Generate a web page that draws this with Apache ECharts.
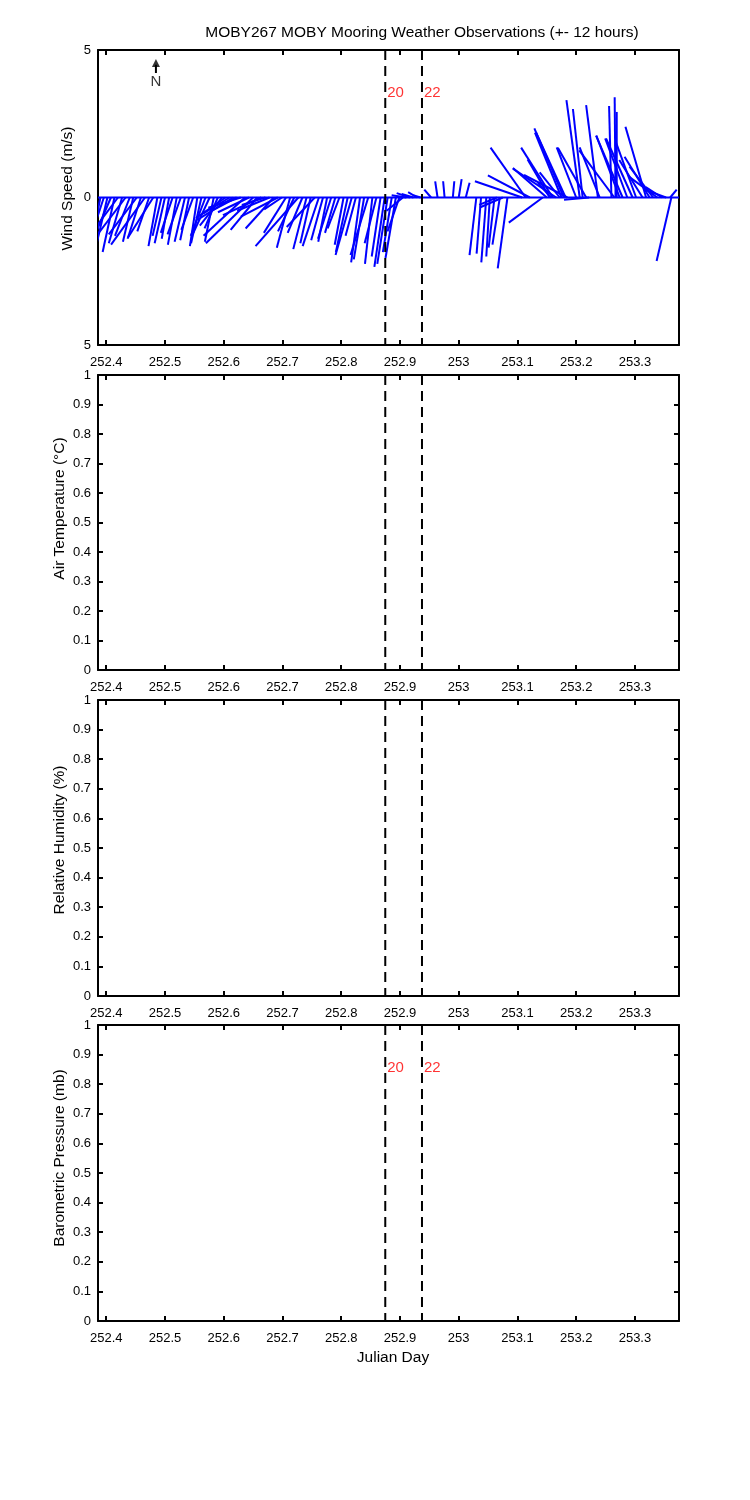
<!DOCTYPE html>
<html>
<head>
<meta charset="utf-8">
<title>MOBY267 MOBY Mooring Weather Observations</title>
<script src="https://cdn.jsdelivr.net/npm/echarts@6/dist/echarts.min.js"></script>
<style>
  html, body { margin: 0; padding: 0; background: #fff; }
  #chart { width: 750px; height: 1500px; }
</style>
</head>
<body>
<div id="chart"></div>
<script>
// julian day window (+- 12 hours)
var xMin = 252.386, xMax = 253.375;

// wind sticks: base time, east (u) and north (v) components in m/s
var windTime = [
  252.390, 252.396, 252.402, 252.408, 252.414, 252.420, 252.427, 252.433, 252.440, 252.446,
  252.452, 252.459, 252.466, 252.473, 252.480, 252.487,
  252.494, 252.500, 252.507, 252.513, 252.520, 252.527, 252.534, 252.541, 252.548, 252.555,
  252.562, 252.569, 252.576, 252.583, 252.590,
  252.597, 252.603, 252.610, 252.616, 252.622, 252.629, 252.636, 252.643, 252.650, 252.657,
  252.664, 252.671, 252.678, 252.685, 252.692, 252.699, 252.706, 252.713, 252.720,
  252.727, 252.734, 252.741, 252.748, 252.755, 252.762, 252.769, 252.776, 252.783, 252.790,
  252.797, 252.804, 252.811, 252.818, 252.825, 252.832, 252.839, 252.846, 252.853, 252.860,
  252.867, 252.874,
  252.879, 252.886, 252.893, 252.899, 252.905, 252.911, 252.917, 252.923, 252.929, 252.935,
  252.953, 252.964, 252.976, 252.990, 253.000, 253.012,
  253.030, 253.038, 253.047, 253.053, 253.061, 253.065, 253.070, 253.075, 253.083,
  253.108, 253.114, 253.121, 253.143, 253.150, 253.155, 253.157, 253.160, 253.166, 253.172,
  253.175, 253.179, 253.182, 253.185, 253.200, 253.206, 253.211, 253.217, 253.222, 253.237,
  253.240, 253.260, 253.265, 253.267, 253.269, 253.274, 253.279, 253.287, 253.296, 253.302,
  253.313, 253.319, 253.325, 253.331, 253.338, 253.346, 253.353, 253.360, 253.362
];
var windU = [
  -0.30, -0.55, -0.35, -0.75, -0.40, -0.90, -0.45, -1.10, -0.50, -0.35,
  -0.95, -0.45, -1.15, -0.40, -0.85, -0.30,
  -0.30, -0.35, -0.25, -0.40, -0.30, -0.45, -0.35, -0.30, -0.40, -0.25,
  -0.35, -0.50, -0.55, -0.30, -0.45,
  -0.75, -1.00, -0.90, -1.20, -0.85, -1.10, -1.40, -1.05, -1.60, -0.90,
  -1.30, -0.80, -1.10, -0.95, -1.25, -0.60, -0.75, -0.45, -0.55,
  -1.45, -0.50, -0.45, -0.35, -0.95, -0.55, -0.40, -0.30, -0.45, -0.35,
  -0.40, -0.30, -0.40, -0.55, -0.35, -0.30, -0.35, -0.60, -0.25, -0.40,
  -0.30, -0.35,
  -0.35, -0.30, -0.35, -0.40, -0.55, -0.50, -0.45, -0.40, -0.30, -0.25,
  -0.23, -0.08, -0.05, 0.05, 0.10, 0.13,
  -0.23, -0.15, -0.17, -0.12, -0.20, -0.60, -0.25, -0.78, -0.33,
  -1.60, -1.19, -1.42, -1.15, -1.15, -0.75, -0.44, -1.07, -1.47, -0.68,
  -0.90, -1.00, -1.00, -1.47, -0.66, -0.45, -0.33, -0.96, -0.85, -0.40,
  -0.68, -0.08, -1.19, -0.03, 0.00, -0.79, -0.90, -0.75, -0.90, -0.68,
  -0.79, -0.70, -0.85, -0.80, -0.95, -0.55, -0.68, 0.22, -0.50
];
var windV = [
  -1.60, -1.65, -1.50, -1.75, -1.85, -1.20, -1.55, -1.45, -1.30, -1.50,
  -1.25, -1.40, -1.60, -1.15, -1.35, -1.65,
  -1.30, -1.55, -1.40, -1.20, -1.60, -1.25, -1.50, -1.45, -1.10, -1.65,
  -1.55, -1.30, -1.20, -1.50, -1.05,
  -0.95, -0.70, -0.55, -0.75, -0.45, -0.35, -1.30, -0.50, -1.55, -1.10,
  -0.60, -0.25, -0.45, -1.05, -0.65, -0.40, -1.20, -1.70, -1.15,
  -1.65, -1.20, -1.75, -1.55, -1.00, -1.65, -1.45, -1.50, -1.40, -1.20,
  -1.05, -1.60, -1.85, -1.95, -1.30, -2.20, -2.10, -1.95, -2.25, -1.55,
  -2.00, -2.35,
  -2.25, -1.85, -2.05, -1.15, -0.45, 0.08, 0.15, 0.12, 0.18, 0.08,
  0.27, 0.55, 0.55, 0.55, 0.62, 0.50,
  -1.95, -1.90, -2.20, -2.00, -1.70, -0.25, -1.60, -0.34, -2.40,
  0.55, 1.69, 0.75, -0.85, 1.00, 1.29, 0.50, 1.69, 0.98, 0.85,
  2.20, 2.34, 2.20, 0.77, 1.70, 3.30, 3.00, 1.69, -0.08, 3.13,
  1.70, 3.10, 1.60, 3.40, 2.90, 2.10, 2.10, 2.00, 2.00, 1.86,
  1.27, 2.40, 1.38, 1.05, 0.70, 0.35, 0.25, 0.27, -2.15
];

// event markers (vertical dashed lines)
var markerTime = [252.875, 252.9375];
var markerLabel = ['20', '22'];

var panelNames = ['Wind Speed (m/s)', 'Air Temperature (\u00b0C)', 'Relative Humidity (%)', 'Barometric Pressure (mb)'];
var panelTop = [50, 375, 700, 1025];
var panelHeight = [295, 295, 296, 296];
var nameShift = [18, 28, 16, 30];

var FONT = 'Liberation Sans, Arial, sans-serif';
var gridLeft = 98, gridWidth = 581;

// days per m/s so that sticks keep their true direction on screen
var stickScale = (xMax - xMin) / gridWidth * (panelHeight[0] / 10);

var chart = echarts.init(document.getElementById('chart'));

var grids = [], xAxes = [], yAxes = [], series = [];
var frameLine = { show: true, onZero: false, lineStyle: { color: '#000', width: 2 } };
var tickIn = { show: true, inside: true, length: 5, lineStyle: { color: '#000', width: 2 } };

for (var i = 0; i < 4; i++) {
  grids.push({ left: gridLeft, top: panelTop[i], width: gridWidth, height: panelHeight[i] });

  var xBase = {
    type: 'value', gridIndex: i, min: xMin, max: xMax,
    splitNumber: 10, minInterval: 0.1, maxInterval: 0.1,
    axisLine: frameLine, axisTick: tickIn, splitLine: { show: false }
  };
  xAxes.push(echarts.util.merge({
    position: 'bottom',
    axisLabel: { show: true, showMinLabel: false, showMaxLabel: false, color: '#000', fontSize: 13, fontFamily: FONT, margin: 11 },
    name: i === 3 ? 'Julian Day' : '',
    nameLocation: 'middle', nameGap: 29, nameMoveOverlap: false,
    nameTextStyle: { color: '#000', fontSize: 15.5, fontFamily: FONT, padding: [0, 0, 0, 9] }
  }, xBase, true));
  xAxes.push(echarts.util.merge({ position: 'top', axisLabel: { show: false } }, xBase, true));

  var isWind = i === 0;
  var yBase = {
    type: 'value', gridIndex: i,
    min: isWind ? -5 : 0, max: isWind ? 5 : 1, interval: isWind ? 5 : 0.1,
    axisLine: frameLine, axisTick: isWind ? { show: false } : tickIn, splitLine: { show: false }
  };
  yAxes.push(echarts.util.merge({
    position: 'left',
    axisLabel: {
      color: '#000', fontSize: 13, fontFamily: FONT, margin: 7,
      formatter: isWind ? function (v) { return String(Math.abs(v)); } : null
    },
    name: panelNames[i], nameLocation: 'middle', nameGap: isWind ? 22.5 : 30, nameMoveOverlap: false,
    nameTextStyle: { color: '#000', fontSize: 15.5, fontFamily: FONT, padding: [0, 0, 0, nameShift[i]] }
  }, yBase, true));
  yAxes.push(echarts.util.merge({ position: 'right', axisLabel: { show: false } }, yBase, true));

  // dashed event lines in every panel
  markerTime.forEach(function (t) {
    series.push({
      type: 'line', xAxisIndex: 2 * i, yAxisIndex: 2 * i, silent: true, z: 5,
      showSymbol: false, symbol: 'none',
      data: [[t, yBase.max], [t, yBase.min]],
      lineStyle: { color: '#000', width: 2, type: [10, 6] }
    });
  });
}

// zero line of the stick plot
series.push({
  type: 'line', xAxisIndex: 0, yAxisIndex: 0, silent: true, symbol: 'none', z: 3,
  data: [[xMin, 0], [xMax, 0]],
  lineStyle: { color: '#0000ff', width: 2 }
});

// wind sticks
series.push({
  type: 'custom', xAxisIndex: 0, yAxisIndex: 0, clip: true, silent: true, z: 3,
  data: windTime.map(function (t, k) { return [t, windU[k], windV[k]]; }),
  encode: { x: 0, y: 2 },
  renderItem: function (params, api) {
    var t = api.value(0), u = api.value(1), v = api.value(2);
    var p0 = api.coord([t, 0]);
    var p1 = api.coord([t + u * stickScale, v]);
    return {
      type: 'line',
      shape: { x1: p0[0], y1: p0[1], x2: p1[0], y2: p1[1] },
      style: { stroke: '#0000ff', lineWidth: 2 }
    };
  }
});

// red marker labels, top and bottom panels
[[0, 3.54], [3, 0.854]].forEach(function (pl) {
  series.push({
    type: 'scatter', xAxisIndex: 2 * pl[0], yAxisIndex: 2 * pl[0], silent: true, z: 6,
    symbolSize: 0,
    data: markerTime.map(function (t, k) { return [t, pl[1], markerLabel[k]]; }),
    label: {
      show: true, position: 'right', distance: 2,
      formatter: function (p) { return p.value[2]; },
      color: '#ff0000', fontSize: 15, fontFamily: FONT
    }
  });
});

// north arrow
var arrowX = 252.4846;
series.push({
  type: 'line', xAxisIndex: 0, yAxisIndex: 0, silent: true, symbol: 'none',
  data: [[arrowX, 4.22], [arrowX, 4.5]],
  lineStyle: { color: '#000', width: 2 }
});
series.push({
  type: 'scatter', xAxisIndex: 0, yAxisIndex: 0, silent: true,
  data: [[arrowX, 4.56]], symbol: 'triangle', symbolSize: [8, 8],
  itemStyle: { color: '#000' }
});
series.push({
  type: 'scatter', xAxisIndex: 0, yAxisIndex: 0, silent: true,
  data: [[arrowX, 3.92]], symbolSize: 0,
  label: { show: true, position: 'inside', formatter: 'N', color: '#000', fontSize: 15, fontFamily: FONT }
});

chart.setOption({
  backgroundColor: '#fff',
  animation: false,
  title: {
    text: 'MOBY267 MOBY Mooring Weather Observations (+- 12 hours)',
    left: 422, top: 25, padding: 0, textAlign: 'center',
    textStyle: { color: '#000', fontSize: 15.5, fontWeight: 'normal', fontFamily: FONT }
  },
  grid: grids,
  xAxis: xAxes,
  yAxis: yAxes,
  series: series
});
</script>
</body>
</html>
